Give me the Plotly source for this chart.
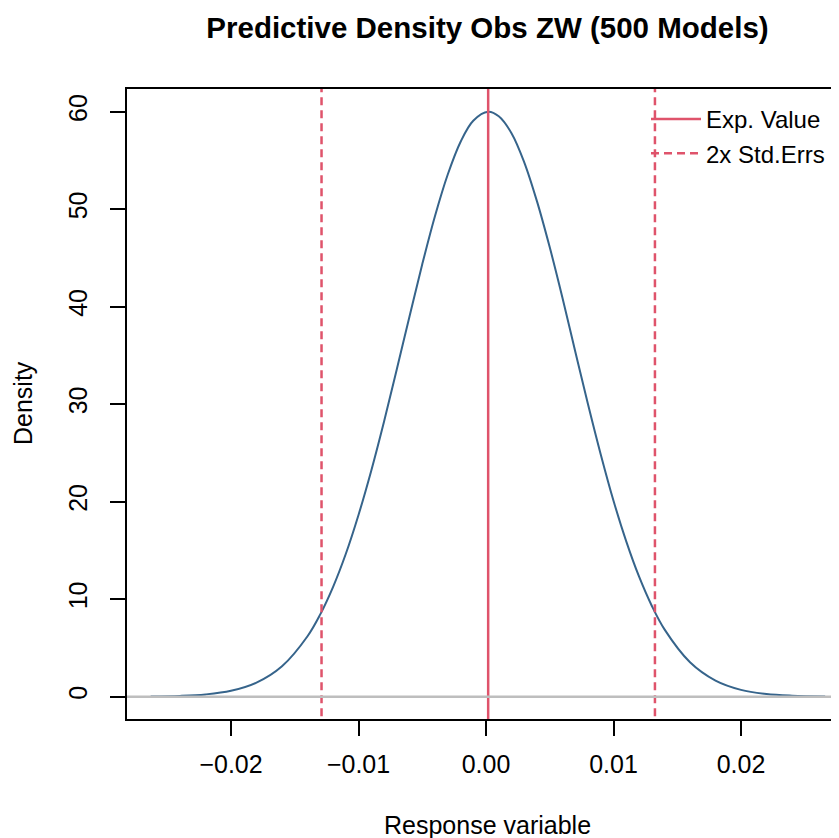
import plotly.graph_objects as go

# predictive density
dens_x = [-0.0263, -0.024, -0.022, -0.020, -0.018, -0.016, -0.014, -0.013, -0.012, -0.011, -0.010,
          -0.009, -0.008, -0.007, -0.006, -0.005, -0.004, -0.003, -0.002, -0.001, 0.00017,
          0.001, 0.002, 0.003, 0.004, 0.005, 0.006, 0.007, 0.008, 0.009,
          0.010, 0.011, 0.012, 0.013, 0.014, 0.016, 0.018, 0.020, 0.022, 0.024, 0.0266]
dens_y = [0.02, 0.08, 0.23, 0.60, 1.44, 3.12, 6.20, 8.44, 11.24, 14.63, 18.64,
          23.18, 28.2, 33.56, 39.0, 44.35, 49.3, 53.56, 56.9, 59.08, 60.0,
          59.53, 57.8, 54.81, 50.8, 46.09, 40.9, 35.41, 30.0, 24.85,
          20.1, 15.93, 12.33, 9.33, 6.90, 3.53, 1.65, 0.70, 0.27, 0.10, 0.02]

exp_value = 0.00017
two_se_lo = -0.0129
two_se_hi = 0.01325

x_ticks = [-0.02, -0.01, 0.00, 0.01, 0.02]
y_ticks = [0, 10, 20, 30, 40, 50, 60]

red = "#DF536B"
blue = "#36648B"
font = "Liberation Sans, Arial, sans-serif"

# the page body adds 8px on the left and top, so the figure is 8px smaller
W, H = 831, 830

fig = go.Figure()
fig.add_trace(go.Scatter(x=dens_x, y=dens_y, mode="lines", line=dict(color=blue, width=2, shape="spline"),
                         showlegend=False))
fig.add_trace(go.Scatter(x=[exp_value, exp_value], y=[-10, 80], mode="lines",
                         line=dict(color=red, width=2.5), name="Exp. Value"))
fig.add_trace(go.Scatter(x=[two_se_lo, two_se_lo, None, two_se_hi, two_se_hi], y=[-10, 80, None, -10, 80],
                         mode="lines", line=dict(color=red, width=2.5, dash="8px,5px"), name="2x Std.Errs"))
fig.add_hline(y=0, line=dict(color="#BEBEBE", width=2.5))

fig.update_layout(
    width=W, height=H,
    margin=dict(l=119, r=0, t=81, b=119),
    plot_bgcolor="white", paper_bgcolor="white",
    font=dict(family=font, size=25, color="black"),
    title=dict(text="<b>Predictive Density Obs ZW (500 Models)</b>", font=dict(size=29.5),
               x=479.5 / W, xanchor="center", y=1 - 19.5 / H, yanchor="middle", yref="container"),
    legend=dict(x=(646 - 127) / 712, xanchor="left", y=(719 - 97) / 630, yanchor="top",
                bgcolor="rgba(0,0,0,0)", font=dict(size=24), itemwidth=50),
    xaxis=dict(range=[-0.028157, 0.027686], tickvals=x_ticks, tickformat=".2f",
               showgrid=False, zeroline=False, showline=True, linecolor="black", linewidth=2, mirror=True,
               ticks="outside", ticklen=15, tickwidth=2, tickcolor="black", ticklabelstandoff=7),
    yaxis=dict(range=[-2.29, 62.33], tickvals=y_ticks, tickangle=-90,
               showgrid=False, zeroline=False, showline=True, linecolor="black", linewidth=2,
               ticks="outside", ticklen=15, tickwidth=2, tickcolor="black", ticklabelstandoff=13),
    annotations=[
        dict(text="Response variable", xref="paper", yref="paper", x=(487.5 - 127) / 712,
             y=(719 - 825) / 630, xanchor="center", yanchor="middle", showarrow=False),
        dict(text="Density", xref="paper", yref="paper", x=(22.5 - 127) / 712,
             y=(719 - 402.5) / 630, xanchor="center", yanchor="middle", textangle=-90, showarrow=False),
    ],
)

fig.write_html("out.html")
